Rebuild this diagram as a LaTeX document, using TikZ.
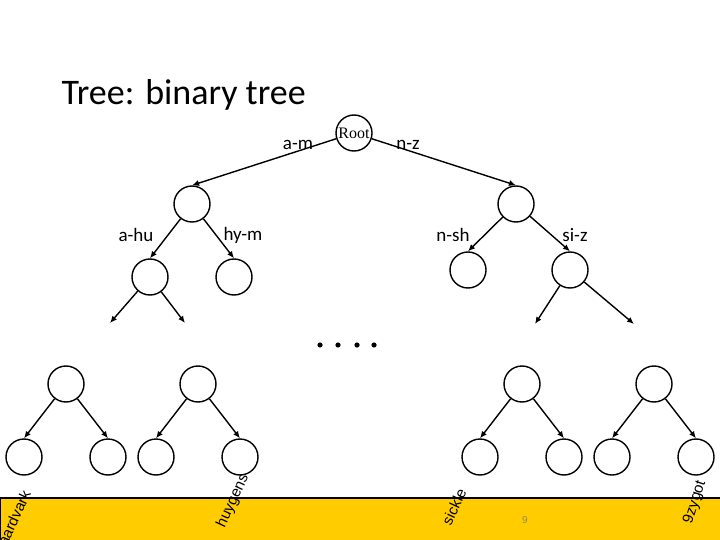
\documentclass[tikz,border=0pt]{standalone}
\usepackage{fontspec}
\setmainfont{Carlito}
\newfontfamily\leaffont{Liberation Sans}
\newfontfamily\rootfont{Liberation Serif}
\usetikzlibrary{arrows.meta}
\definecolor{bandyellow}{RGB}{255,204,0}
\definecolor{pagegray}{RGB}{150,135,95}
\begin{document}
\begin{tikzpicture}[x=1pt,y=-1pt,
  treenode/.style={circle, fill=white, draw=black, line width=1.4pt, minimum size=36pt, inner sep=0pt},
  branch/.style={-{Latex[length=7pt,width=6pt]}, line width=1.4pt},
  rangelabel/.style={font=\fontsize{19}{22}\selectfont},
  leaflabel/.style={font=\leaffont\fontsize{15}{17}\selectfont, rotate=65}]
\useasboundingbox [fill=white] (0,0) rectangle (720,540);
\fill [bandyellow] (0,498) rectangle (720,540);
\draw [line width=1.4pt] (0.7,540) -- (0.7,498) -- (720,498);
\node [white, font=\fontsize{12}{14}\selectfont] (sec) at (635,12) {Sec. 3.1};
\node [anchor=base west, font=\fontsize{36}{42}\selectfont] (title) at (58,105) {Tree: binary tree};
\node [treenode, font=\rootfont\fontsize{16}{18}\selectfont] (root) at (354,133) {Root};
\node [treenode] (l) at (192,204) {};
\node [treenode] (r) at (516,204) {};
\node [treenode] (ll) at (150,277) {};
\node [treenode] (lr) at (234,277) {};
\node [treenode] (rl) at (468,270) {};
\node [treenode] (rr) at (570,270) {};
\node [rangelabel] (am) at (298,145) {a-m};
\node [rangelabel] (nz) at (408,145) {n-z};
\node [rangelabel] (ahu) at (136,235) {a-hu};
\node [rangelabel] (hym) at (243,235) {hy-m};
\node [rangelabel] (nsh) at (453,235) {n-sh};
\node [rangelabel] (siz) at (575,235) {si-z};
\coordinate (lla) at (110,323);
\coordinate (llb) at (185,323);
\coordinate (rra) at (535,324);
\coordinate (rrb) at (634,324);
\draw [branch] (root) -- (l.north);
\draw [branch] (root) -- (r.north);
\draw [branch] (l) -- (ll.north);
\draw [branch] (l) -- (lr.north);
\draw [branch] (r) -- (rl.north);
\draw [branch] (r) -- (rr.north);
\draw [branch] (ll) -- (lla);
\draw [branch] (ll) -- (llb);
\draw [branch] (rr) -- (rra);
\draw [branch] (rr) -- (rrb);
\fill (320,345) circle (2.6);
\fill (338,345) circle (2.6);
\fill (357,345) circle (2.6);
\fill (374,345) circle (2.6);
\node [treenode] (st1) at (66,384) {};
\node [treenode] (st1l) at (24,457) {};
\node [treenode] (st1r) at (108,457) {};
\node [treenode] (st2) at (198,384) {};
\node [treenode] (st2l) at (156,457) {};
\node [treenode] (st2r) at (240,457) {};
\node [treenode] (st3) at (522,384) {};
\node [treenode] (st3l) at (480,457) {};
\node [treenode] (st3r) at (564,457) {};
\node [treenode] (st4) at (654,384) {};
\node [treenode] (st4l) at (612,457) {};
\node [treenode] (st4r) at (696,457) {};
\draw [branch] (st1) -- (st1l.north);
\draw [branch] (st1) -- (st1r.north);
\draw [branch] (st2) -- (st2l.north);
\draw [branch] (st2) -- (st2r.north);
\draw [branch] (st3) -- (st3l.north);
\draw [branch] (st3) -- (st3r.north);
\draw [branch] (st4) -- (st4l.north);
\draw [branch] (st4) -- (st4r.north);
\node [leaflabel] (aardvark) at (14,518) {aardvark};
\node [leaflabel] (huygens) at (233,501) {huygens};
\node [leaflabel] (sickle) at (454,507) {sickle};
\node [leaflabel, rotate=7] (zygot) at (695,502) {9zygot};
\node [pagegray, font=\leaffont\fontsize{10}{12}\selectfont] (page) at (525,520) {9};
\end{tikzpicture}
\end{document}
